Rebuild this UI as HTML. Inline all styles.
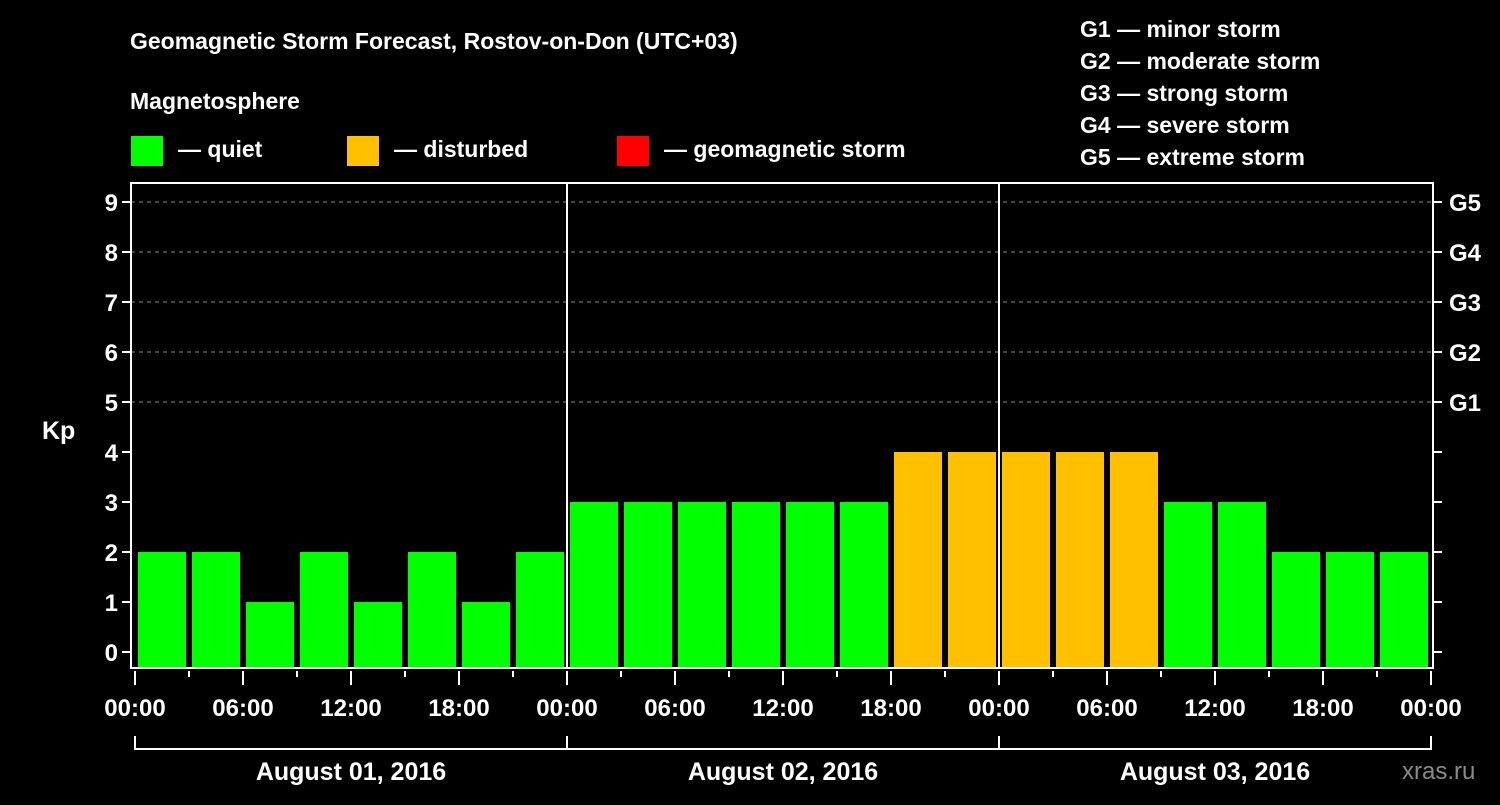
<!DOCTYPE html>
<html><head><meta charset="utf-8"><style>
body{margin:0;background:#000;width:1500px;height:800px;overflow:hidden}
svg text{font-family:"Liberation Sans",sans-serif;font-weight:bold;fill:#fff}
</style></head><body>
<svg id="c" width="1500" height="800">
<rect width="1500" height="800" fill="#000"/>
<text x="130" y="49" font-size="23">Geomagnetic Storm Forecast, Rostov-on-Don (UTC+03)</text>
<text x="130" y="109" font-size="23">Magnetosphere</text>
<g><rect x="131" y="136" width="32" height="30" fill="#00ff00"/><text x="178" y="157" font-size="23">— quiet</text></g>
<g><rect x="347" y="136" width="32" height="30" fill="#ffc000"/><text x="394" y="157" font-size="23">— disturbed</text></g>
<g><rect x="617" y="136" width="32" height="30" fill="#ff0000"/><text x="664" y="157" font-size="23">— geomagnetic storm</text></g>
<g font-size="23">
<text x="1080" y="37">G1 — minor storm</text><text x="1080" y="69">G2 — moderate storm</text><text x="1080" y="101">G3 — strong storm</text><text x="1080" y="133">G4 — severe storm</text><text x="1080" y="165">G5 — extreme storm</text></g>
<text x="42" y="439" font-size="25">Kp</text>
<text x="1402" y="779" font-size="24" fill="#888" style="fill:#8a8a8a;font-weight:normal">xras.ru</text>
<g id="plot"></g>
</svg>
<script>
const kpValues=[2,2,1,2,1,2,1,2,3,3,3,3,3,3,4,4,4,4,4,3,3,2,2,2];
const yTicks=[0,1,2,3,4,5,6,7,8,9];
const gLabels=["G1","G2","G3","G4","G5"];
const xTickLabels=["00:00","06:00","12:00","18:00","00:00","06:00","12:00","18:00","00:00","06:00","12:00","18:00","00:00"];
const dayLabels=["August 01, 2016","August 02, 2016","August 03, 2016"];
const L=131,R=1433,T=183,B=668,X0=135,HR=18;
const y=v=>652-v*50, x=h=>X0+h*HR;
const g=document.getElementById('plot'),NS='http://www.w3.org/2000/svg';
function mk(t,a,p){const e=document.createElementNS(NS,t);for(const k in a)e.setAttribute(k,a[k]);(p||g).appendChild(e);return e;}
yTicks.forEach(v=>{
 if(v>=5){const l=mk('line',{x1:L,x2:R,y1:y(v),y2:y(v),stroke:'#888','stroke-dasharray':'4,4'});
 
 }
 const tk=mk('line',{x1:L-9,x2:L,y1:y(v),y2:y(v),stroke:'#fff','stroke-width':2});
 
 
 const rt=mk('line',{x1:R,x2:R+9,y1:y(v),y2:y(v),stroke:'#fff','stroke-width':2});
 
 
 const t=mk('text',{x:L-13,y:y(v)+9,'font-size':24,'text-anchor':'end'});t.textContent=v;
 
 
});
gLabels.forEach((s,i)=>{const t=mk('text',{x:1449,y:y(5+i)+9,'font-size':24});t.textContent=s;
 
 });
kpValues.forEach((v,i)=>{
 const c=v>=5?'#ff0000':v>=4?'#ffc000':'#00ff00';
 const r=mk('rect',{x:x(i*3)+3,y:y(v),width:48,height:B-1-y(v),fill:c});
 
 
});
const fr=mk('path',{d:`M${L},${T}H${R}V${B}H${L}Z`,fill:'none',stroke:'#fff','stroke-width':2});


[1,2].forEach(d=>{const l=mk('line',{x1:x(d*24),x2:x(d*24),y1:T,y2:B,stroke:'#fff','stroke-width':2});
 
 });
for(let i=0;i<=24;i++){const long=i%2==0;
 const l=mk('line',{x1:x(i*3),x2:x(i*3),y1:B+3,y2:B+(long?17:9),stroke:'#fff','stroke-width':2});
 
 }
xTickLabels.forEach((s,i)=>{const t=mk('text',{x:x(i*6),y:716,'font-size':24,'text-anchor':'middle'});t.textContent=s;
 
 });
dayLabels.forEach((s,d)=>{
 const p=mk('path',{d:`M${x(d*24)},736V749H${x(d*24+24)}V736`,fill:'none',stroke:'#fff','stroke-width':2});
 
 
 const t=mk('text',{x:x(d*24+12),y:780,'font-size':25,'text-anchor':'middle'});t.textContent=s;
 
 });
</script>
</body></html>
